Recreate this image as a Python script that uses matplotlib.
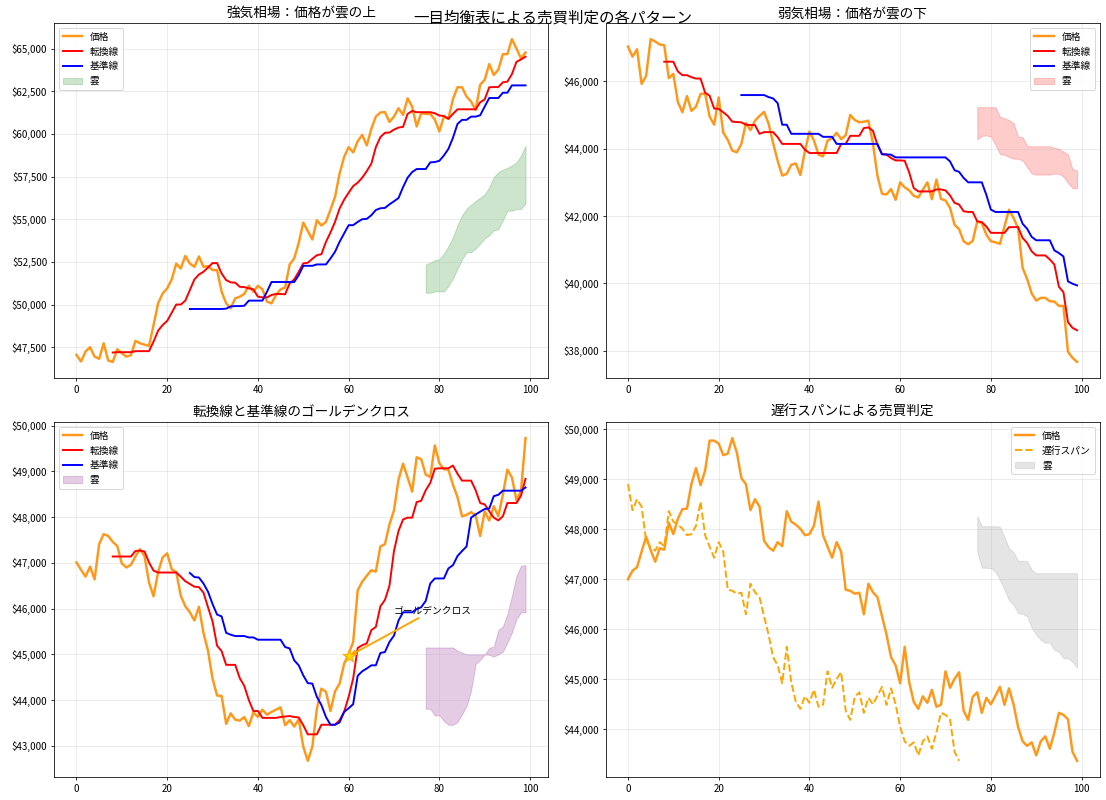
import numpy as np
import matplotlib
matplotlib.use('Agg')
import matplotlib.pyplot as plt
from matplotlib.ticker import FuncFormatter

plt.rcParams['font.family'] = ['Noto Sans CJK JP', 'DejaVu Sans']
plt.rcParams['axes.unicode_minus'] = False

# bullish panel
bull_price = [47050, 46660, 47250, 47500, 46950, 46820, 47730, 46720, 46640, 47380,
              47150, 46950, 47030, 47870, 47730, 47650, 47580, 48800, 50070, 50650,
              50950, 51470, 52400, 52110, 52850, 52400, 52210, 52820, 52210, 52250,
              52020, 52020, 50750, 50070, 49780, 50360, 50460, 50620, 51100, 50750,
              51100, 50890, 50170, 50070, 50560, 50890, 51000, 52350, 52700, 53610,
              54800, 54310, 53810, 54940, 54630, 54840, 55560, 56300, 57660, 58640,
              59220, 58910, 59570, 59940, 59320, 60290, 61010, 61250, 61280, 60700,
              61010, 61500, 61110, 62080, 61600, 60430, 61210, 61170, 61170, 60840,
              60140, 61010, 60880, 62040, 62730, 62730, 62180, 61890, 61400, 62880,
              63170, 64090, 63450, 63760, 64670, 64670, 65550, 65000, 64420, 64770]
bull_tenkan = [47190, 47210, 47210, 47210, 47210, 47270, 47270, 47270, 47270, 47830,
               48470, 48800, 49040, 49520, 50000, 50000, 50230, 50850, 51470, 51760,
               51920, 52170, 52430, 52430, 51820, 51430, 51300, 51280, 51040, 51020,
               50950, 50890, 50460, 50420, 50420, 50560, 50620, 50620, 50600, 51240,
               51470, 51920, 52410, 52450, 52680, 52890, 52950, 53670, 54220, 54840,
               55620, 56140, 56550, 56940, 57140, 57430, 57820, 58250, 59220, 59810,
               60060, 60080, 60250, 60370, 60410, 61170, 61340, 61270, 61270, 61270,
               61270, 61210, 61070, 61050, 60880, 61170, 61440, 61440, 61440, 61440,
               61440, 61850, 62020, 62730, 62740, 62740, 63020, 63060, 63500, 64220,
               64360, 64520]
bull_kijun = [49740, 49740, 49740, 49740, 49740, 49740, 49740, 49740, 49760, 49890,
              49910, 49910, 49930, 50230, 50230, 50230, 50230, 50750, 51320, 51320,
              51320, 51320, 51320, 51320, 51720, 52270, 52270, 52270, 52350, 52350,
              52350, 52700, 53090, 53670, 54160, 54650, 54650, 54840, 55000, 55020,
              55230, 55540, 55640, 55660, 55870, 56050, 56240, 56880, 57430, 57760,
              57940, 57940, 57940, 58330, 58350, 58420, 58730, 59120, 59770, 60580,
              60820, 60820, 61010, 61010, 61090, 61600, 62100, 62100, 62100, 62410,
              62410, 62840, 62840, 62840, 62840]
bull_cloud_top = [52350, 52460, 52600, 52660, 52990, 53420, 53960, 54650, 55230, 55620,
                  55850, 56070, 56260, 56460, 56880, 57470, 57760, 57900, 58010, 58150,
                  58330, 58730, 59300]
bull_cloud_bot = [50690, 50690, 50770, 50770, 50770, 51100, 51530, 52110, 52640, 53070,
                  53070, 53280, 53570, 53870, 54060, 54350, 54410, 54940, 55500, 55500,
                  55600, 55600, 55930]

# bearish panel
bear_price = [47030, 46730, 46950, 45920, 46160, 47250, 47180, 47090, 47070, 46090,
              46220, 45380, 45080, 45560, 45120, 45250, 45620, 45640, 44950, 44710,
              45520, 44480, 44260, 43940, 43890, 44140, 44760, 44550, 44830, 44970,
              45090, 44740, 44160, 43640, 43200, 43250, 43520, 43560, 43220, 43920,
              44510, 44240, 43820, 43770, 44240, 44310, 44470, 44280, 44400, 45000,
              44850, 44780, 44800, 44830, 44160, 43190, 42660, 42640, 42800, 42480,
              43000, 42850, 42760, 42600, 42550, 42780, 43000, 42500, 43080, 42510,
              42460, 42240, 41740, 41610, 41250, 41160, 41260, 41840, 41790, 41450,
              41250, 41220, 41170, 41690, 42190, 41940, 41640, 40460, 40130, 39700,
              39490, 39570, 39570, 39470, 39460, 39330, 39330, 37970, 37790, 37670]
bear_tenkan = [46580, 46580, 46580, 46290, 46180, 46180, 46120, 46080, 46080, 45660,
               45570, 45190, 45180, 45080, 44970, 44800, 44790, 44780, 44710, 44700,
               44700, 44440, 44490, 44490, 44490, 44340, 44140, 44140, 44140, 44140,
               44140, 43970, 43870, 43870, 43870, 43870, 43870, 43870, 43870, 44140,
               44140, 44380, 44380, 44380, 44610, 44630, 44530, 44110, 43840, 43820,
               43720, 43650, 43650, 43640, 43290, 42830, 42730, 42730, 42730, 42730,
               42790, 42790, 42760, 42610, 42390, 42340, 42140, 42120, 42120, 41840,
               41820, 41690, 41500, 41500, 41500, 41500, 41670, 41670, 41670, 41350,
               41200, 40950, 40830, 40830, 40830, 40710, 40560, 39900, 39740, 38850,
               38680, 38610]
bear_kijun = [45590, 45590, 45590, 45590, 45590, 45590, 45530, 45490, 45350, 44710,
              44710, 44440, 44440, 44440, 44440, 44440, 44440, 44440, 44350, 44350,
              44350, 44140, 44140, 44140, 44140, 44140, 44140, 44140, 44140, 44140,
              44140, 43830, 43830, 43820, 43740, 43740, 43740, 43740, 43740, 43740,
              43740, 43740, 43740, 43740, 43740, 43740, 43620, 43360, 43310, 43130,
              43000, 43000, 43000, 43000, 42630, 42190, 42120, 42120, 42120, 42120,
              42120, 42120, 41770, 41620, 41380, 41280, 41280, 41280, 41280, 40980,
              40900, 40800, 40060, 39990, 39940]
bear_cloud_top = [45230, 45230, 45230, 45230, 45230, 44950, 44900, 44850, 44760, 44360,
                  44340, 44080, 44070, 44070, 44070, 44070, 44070, 44020, 44000, 43910,
                  43830, 43390, 43350]
bear_cloud_bot = [44280, 44380, 44390, 44360, 44110, 43840, 43820, 43750, 43700, 43700,
                  43650, 43450, 43260, 43230, 43230, 43230, 43230, 43260, 43250, 43170,
                  42980, 42830, 42830]

# golden cross panel
gc_price = [47010, 46850, 46700, 46920, 46640, 47410, 47630, 47590, 47460, 47370,
            46990, 46900, 46960, 47140, 47300, 47150, 46570, 46270, 46800, 47120,
            47210, 46860, 46800, 46280, 46050, 45920, 45740, 46040, 45470, 45080,
            44470, 44100, 44090, 43480, 43710, 43570, 43550, 43630, 43430, 43730,
            43630, 43790, 43680, 43740, 43790, 43840, 43450, 43560, 43420, 43580,
            42980, 42670, 42980, 43810, 44250, 44180, 43760, 44190, 44360, 44790,
            45010, 45270, 46400, 46590, 46720, 46840, 46810, 47360, 47410, 47840,
            48150, 48820, 49170, 48870, 48560, 49310, 49270, 48930, 48880, 49570,
            49180, 49050, 49040, 48710, 48440, 48020, 48050, 48110, 48040, 47590,
            48130, 47930, 48240, 48020, 48490, 49040, 48870, 48370, 48570, 49730]
gc_tenkan = [47140, 47140, 47140, 47140, 47140, 47260, 47270, 47250, 47010, 46830,
             46790, 46790, 46790, 46790, 46790, 46700, 46600, 46540, 46480, 46470,
             46350, 46030, 45720, 45190, 45070, 44770, 44770, 44770, 44480, 44310,
             44000, 43760, 43760, 43610, 43610, 43610, 43610, 43630, 43640, 43650,
             43630, 43620, 43450, 43250, 43250, 43250, 43460, 43460, 43460, 43460,
             43560, 43740, 44070, 44470, 45140, 45200, 45240, 45530, 45600, 46050,
             46190, 46500, 47260, 47700, 47950, 47990, 47990, 48330, 48360, 48590,
             48750, 49060, 49070, 49070, 49070, 49130, 48950, 48800, 48800, 48800,
             48590, 48310, 48280, 48130, 47990, 47930, 48020, 48310, 48310, 48310,
             48470, 48840]
gc_kijun = [46780, 46690, 46680, 46550, 46370, 46100, 45870, 45830, 45470, 45430,
            45400, 45400, 45400, 45370, 45370, 45320, 45320, 45320, 45320, 45320,
            45320, 45160, 45130, 44870, 44760, 44540, 44370, 44360, 44070, 43890,
            43630, 43460, 43460, 43510, 43740, 43820, 43910, 44530, 44630, 44690,
            44760, 44760, 45030, 45050, 45270, 45410, 45740, 45920, 45920, 45920,
            45990, 46030, 46170, 46550, 46660, 46660, 46660, 46880, 46950, 47150,
            47260, 47360, 47990, 48060, 48120, 48180, 48190, 48460, 48490, 48580,
            48580, 48580, 48580, 48580, 48650]
gc_cloud_top = [45150, 45150, 45150, 45150, 45150, 45150, 45150, 45080, 45040, 45000,
                45000, 45000, 45000, 45000, 45140, 45170, 45530, 45610, 45880, 46280,
                46720, 46940, 46950]
gc_cloud_bot = [43810, 43810, 43660, 43670, 43540, 43460, 43460, 43520, 43690, 43870,
                44210, 44790, 44880, 45000, 44990, 44950, 45000, 45060, 45260, 45480,
                45770, 45920, 45920]
gc_cross_x = 60
gc_cross_y = 44960

# chikou panel
ch_price = [47000, 47170, 47240, 47550, 47850, 47580, 47350, 47620, 47590, 48130,
            47900, 48210, 48400, 48410, 48910, 49220, 48880, 49170, 49770, 49770,
            49710, 49480, 49510, 49820, 49530, 49020, 48900, 48380, 48600, 48450,
            47770, 47640, 47570, 47740, 47660, 48360, 48150, 48090, 48010, 47880,
            47900, 48070, 48550, 47880, 47650, 47430, 47740, 47550, 46790, 46770,
            46710, 46730, 46300, 46910, 46740, 46640, 46260, 45890, 45440, 45280,
            44920, 45650, 44940, 44550, 44410, 44660, 44530, 44790, 44450, 44490,
            45160, 44830, 45010, 45140, 44370, 44190, 44650, 44740, 44330, 44630,
            44500, 44670, 44850, 44490, 44820, 44500, 44050, 43760, 43670, 43740,
            43480, 43760, 43860, 43610, 43940, 44330, 44290, 44200, 43550, 43370]
ch_chikou = [48900, 48380, 48600, 48450, 47770, 47640, 47570, 47740, 47660, 48360,
             48150, 48090, 48010, 47880, 47900, 48070, 48550, 47880, 47650, 47430,
             47740, 47550, 46790, 46770, 46710, 46730, 46300, 46910, 46740, 46640,
             46260, 45890, 45440, 45280, 44920, 45650, 44940, 44550, 44410, 44660,
             44530, 44790, 44450, 44490, 45160, 44830, 45010, 45140, 44370, 44190,
             44650, 44740, 44330, 44630, 44500, 44670, 44850, 44490, 44820, 44500,
             44050, 43760, 43670, 43740, 43480, 43760, 43860, 43610, 43940, 44330,
             44290, 44200, 43550, 43370]
ch_cloud_top = [48260, 48060, 48060, 48060, 48060, 48050, 47840, 47620, 47540, 47370,
                47370, 47360, 47190, 47120, 47120, 47120, 47120, 47120, 47120, 47120,
                47120, 47120, 47120]
ch_cloud_bot = [47550, 47230, 47230, 47220, 47150, 46990, 46790, 46580, 46490, 46320,
                46310, 46260, 46030, 45890, 45790, 45730, 45730, 45590, 45550, 45420,
                45420, 45350, 45230]

TENKAN_START = 8
KIJUN_START = 25
CLOUD_START = 77


def dollars(v, pos):
    return f'${v:,.0f}'


def draw_price(ax, price):
    ax.plot(np.arange(len(price)), price, color='darkorange', lw=2.5, alpha=0.9, label='価格')


def draw_lines(ax, tenkan, kijun):
    ax.plot(np.arange(TENKAN_START, 100), tenkan, color='red', lw=2, label='転換線')
    ax.plot(np.arange(KIJUN_START, 100), kijun, color='blue', lw=2, label='基準線')


def draw_cloud(ax, top, bot, color):
    ax.fill_between(np.arange(CLOUD_START, 100), top, bot, color=color, alpha=0.2, label='雲')


def finish(ax, title, loc):
    ax.set_title(title, fontsize=14)
    ax.legend(loc=loc, fontsize=10)
    ax.grid(True, alpha=0.3)
    ax.yaxis.set_major_formatter(FuncFormatter(dollars))


fig, axes = plt.subplots(2, 2, figsize=(1106 / 70, 800 / 70))
fig.subplots_adjust(left=54 / 1106, right=1099.5 / 1106, top=1 - 23 / 800, bottom=1 - 777 / 800,
                    wspace=57.5 / 493.7, hspace=44 / 355.5)
fig.suptitle('一目均衡表による売買判定の各パターン', fontsize=16, y=0.988)

ax = axes[0, 0]
draw_price(ax, bull_price)
draw_lines(ax, bull_tenkan, bull_kijun)
draw_cloud(ax, bull_cloud_top, bull_cloud_bot, 'green')
finish(ax, '強気相場：価格が雲の上', 'upper left')

ax = axes[0, 1]
draw_price(ax, bear_price)
draw_lines(ax, bear_tenkan, bear_kijun)
draw_cloud(ax, bear_cloud_top, bear_cloud_bot, 'red')
finish(ax, '弱気相場：価格が雲の下', 'upper right')

ax = axes[1, 0]
draw_price(ax, gc_price)
draw_lines(ax, gc_tenkan, gc_kijun)
draw_cloud(ax, gc_cloud_top, gc_cloud_bot, 'purple')
ax.scatter([gc_cross_x], [gc_cross_y], marker='*', s=200, color='gold', edgecolor='orange', zorder=5)
ax.annotate('ゴールデンクロス', xy=(gc_cross_x, gc_cross_y), xytext=(70, 45900), fontsize=10,
            arrowprops=dict(arrowstyle='->', color='orange', lw=2))
finish(ax, '転換線と基準線のゴールデンクロス', 'upper left')

ax = axes[1, 1]
draw_price(ax, ch_price)
ax.plot(np.arange(len(ch_chikou)), ch_chikou, color='orange', lw=2, ls='--', label='遅行スパン')
draw_cloud(ax, ch_cloud_top, ch_cloud_bot, 'gray')
finish(ax, '遅行スパンによる売買判定', 'upper right')

fig.savefig('out.png', dpi=70)
